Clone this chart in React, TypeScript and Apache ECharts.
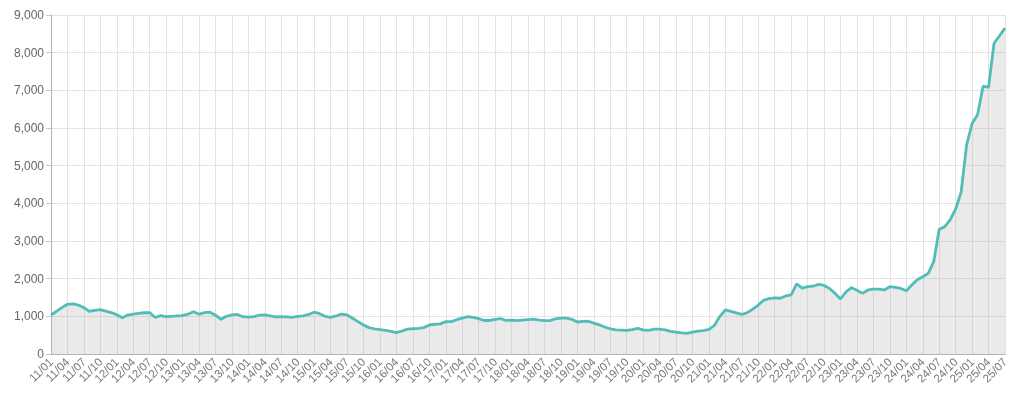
import React, { useEffect, useRef } from "react";
import * as echarts from "echarts";

const startYear = 11;
const endYear = 25;
const endMonth = 7;

const v2011 = [1035, 1130, 1230, 1320, 1330, 1300, 1230, 1130, 1160, 1180, 1140, 1100];
const v2012 = [1040, 965, 1035, 1060, 1080, 1095, 1100, 970, 1020, 990, 1000, 1010];
const v2013 = [1020, 1060, 1120, 1055, 1100, 1110, 1030, 920, 1000, 1040, 1050, 990];
const v2014 = [980, 990, 1030, 1040, 1010, 985, 990, 985, 975, 1000, 1010, 1050];
const v2015 = [1110, 1070, 1000, 975, 1010, 1060, 1040, 950, 860, 770, 700, 670];
const v2016 = [650, 630, 600, 570, 610, 660, 670, 680, 700, 770, 790, 800];
const v2017 = [860, 860, 910, 950, 990, 975, 940, 890, 890, 920, 940, 890];
const v2018 = [900, 885, 900, 915, 925, 900, 885, 885, 935, 955, 955, 920];
const v2019 = [850, 865, 870, 820, 775, 715, 670, 640, 635, 625, 650, 680];
const v2020 = [640, 625, 660, 660, 640, 600, 580, 560, 550, 580, 610, 620];
const v2021 = [655, 760, 1000, 1170, 1130, 1090, 1050, 1100, 1190, 1300, 1430, 1470];
const v2022 = [1490, 1480, 1540, 1570, 1860, 1750, 1790, 1800, 1850, 1820, 1740, 1610];
const v2023 = [1460, 1650, 1760, 1690, 1610, 1700, 1720, 1720, 1700, 1790, 1770, 1740];
const v2024 = [1680, 1830, 1970, 2050, 2140, 2450, 3310, 3380, 3560, 3850, 4300, 5550];
const v2025 = [6120, 6350, 7110, 7080, 8250, 8450, 8650];

const values = [
  ...v2011, ...v2012, ...v2013, ...v2014, ...v2015, ...v2016, ...v2017, ...v2018,
  ...v2019, ...v2020, ...v2021, ...v2022, ...v2023, ...v2024, ...v2025,
];

const categories: string[] = [];
for (let y = startYear; y <= endYear; y++) {
  const last = y === endYear ? endMonth : 12;
  for (let m = 1; m <= last; m++) {
    categories.push(`${y}/${m < 10 ? "0" + m : m}`);
  }
}

const labelEvery = 3;
const yMin = 0;
const yMax = 9000;
const yInterval = 1000;

export default function App() {
  const ref = useRef<HTMLDivElement>(null);
  useEffect(() => {
    if (!ref.current) return;
    const chart = echarts.init(ref.current, undefined, { renderer: "svg" });
    chart.setOption({
      animation: false,
      grid: { left: 51, right: 19, top: 15, bottom: 39, containLabel: false },
      xAxis: {
        type: "category",
        data: categories,
        boundaryGap: false,
        axisLine: { lineStyle: { color: "#b5b5b5", width: 1 } },
        axisTick: { show: false },
        axisLabel: {
          interval: 0,
          rotate: 45,
          hideOverlap: false,
          color: "#777777",
          fontSize: 11.5,
          fontFamily: "Liberation Sans, Arial, sans-serif",
          margin: 6,
          formatter: (v: string, i: number) => (i % labelEvery === 0 ? v : ""),
        },
        splitLine: { show: true, interval: labelEvery - 1, lineStyle: { color: "#e3e3e3", width: 1 } },
      },
      yAxis: {
        type: "value",
        min: yMin,
        max: yMax,
        interval: yInterval,
        axisLine: { show: true, lineStyle: { color: "#b5b5b5", width: 1 } },
        axisTick: { show: true, length: 5, lineStyle: { color: "#c8c8c8" } },
        axisLabel: {
          color: "#666666",
          fontSize: 12,
          fontFamily: "Liberation Sans, Arial, sans-serif",
          margin: 7,
          formatter: (v: number) => v.toLocaleString("en-US"),
        },
        splitLine: { show: true, lineStyle: { color: "#e3e3e3", width: 1 } },
      },
      series: [
        {
          type: "line",
          data: values,
          showSymbol: false,
          symbol: "none",
          lineStyle: { color: "#52bdb8", width: 2.8 },
          itemStyle: { color: "#52bdb8" },
          areaStyle: { color: "rgba(170,170,170,0.36)" },
        },
      ],
    });
    return () => chart.dispose();
  }, []);
  return (
    <div
      ref={ref}
      style={{ position: "fixed", left: 0, top: 0, width: 1024, height: 393 }}
    />
  );
}
